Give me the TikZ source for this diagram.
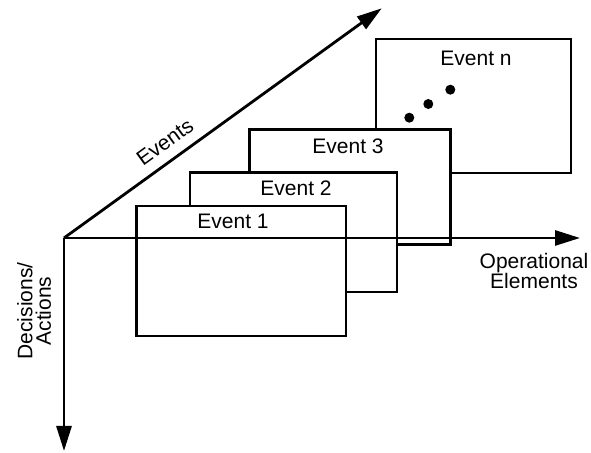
\documentclass[tikz,border=0pt]{standalone}
\usepackage{fontspec}
\setmainfont{Liberation Sans}
\usetikzlibrary{arrows.meta}

\begin{document}
\begin{tikzpicture}[x=20pt, y=20pt,
		evbox/.style={draw, fill=white, line width=2.8pt},
		axis/.style={line width=2.8pt, -{Triangle[length=25pt,width=15pt]}},
		lbl/.style={font=\fontsize{21}{18.5}\selectfont, inner sep=0pt}]
		%%%%% START %%%%%
		\useasboundingbox (0, 0) rectangle (29.55, 22.6);
		
		\draw[evbox] (18.8, 13.95) rectangle (28.55, 20.65);
		\node[lbl] (evn) at (23.8, 19.7) {Event n};
		\fill (20.465, 16.715) circle (0.25);
		\fill (21.415, 17.4) circle (0.25);
		\fill (22.515, 18.115) circle (0.25);
		
		\draw[evbox] (12.475, 10.375) rectangle (22.525, 16.125);
		\node[lbl] (ev3) at (17.4, 15.3) {Event 3};
		
		\draw[evbox] (9.5, 8.0) rectangle (19.85, 13.975);
		\node[lbl] (ev2) at (14.8, 13.2) {Event 2};
		
		\draw[evbox] (6.825, 5.8) rectangle (17.3, 12.3);
		\node[lbl] (ev1) at (11.65, 11.55) {Event 1};
		
		\coordinate (orig) at (3.2, 10.7);
		\coordinate (evtip) at (19.085, 22.185);
		\coordinate (optip) at (29.0, 10.7);
		\coordinate (datip) at (3.2, 0.05);
		
		\draw[axis] (orig) -- (evtip) node[lbl, sloped, above=10pt, pos=0.352] (evlabel) {Events};
		\draw[axis] (orig) -- (optip);
		\draw[axis] (orig) -- (datip);
		
		\node[lbl, align=center] (oplabel) at (26.7, 9.05) {Operational\\Elements};
		\node[lbl, align=center, rotate=90] (dalabel) at (1.7, 7.05) {Decisions/\\Actions};
		%%%%% END %%%%%
	\end{tikzpicture}
\end{document}
